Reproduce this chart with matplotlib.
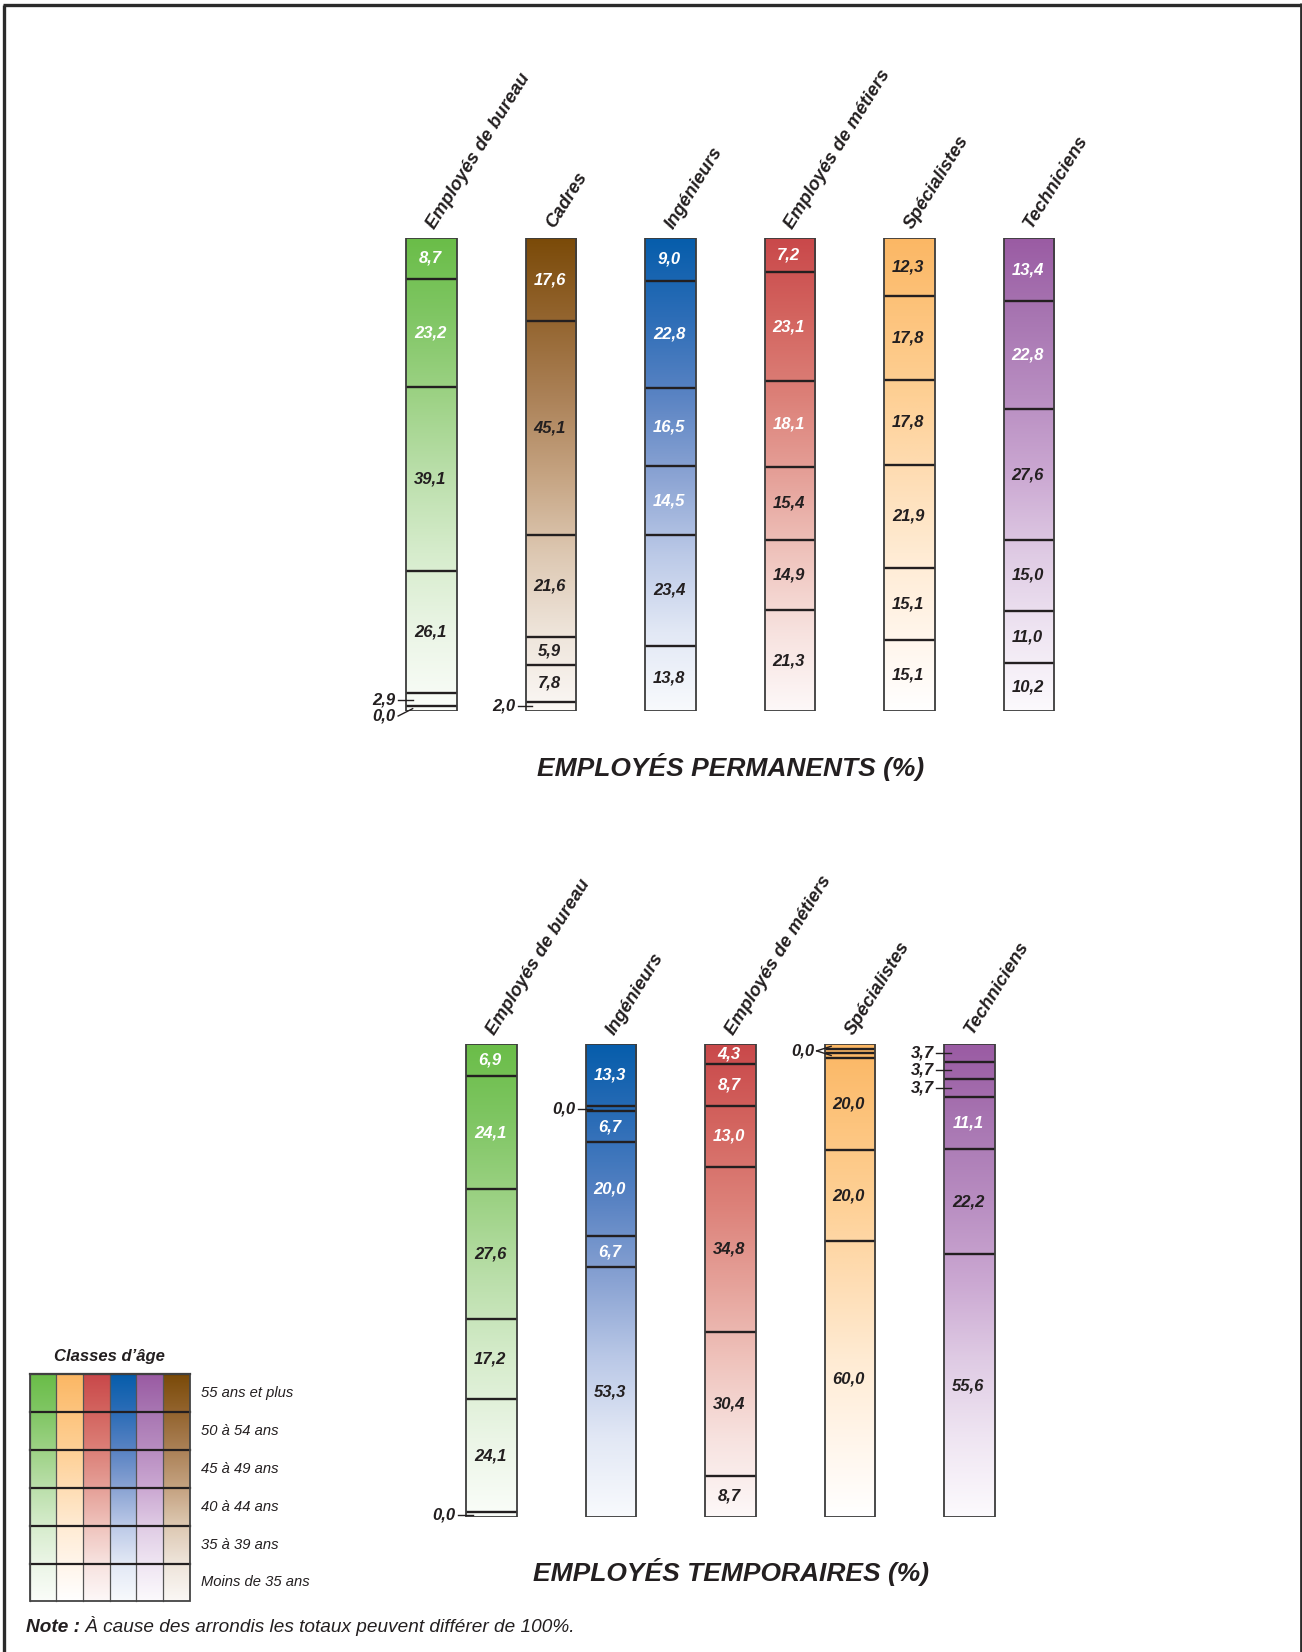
import numpy as np
import matplotlib
matplotlib.use("Agg")
import matplotlib.pyplot as plt
from matplotlib.colors import to_rgb
from matplotlib.patches import Rectangle

# ---------------------------------------------------------------- data
age_classes = ["55 ans et plus", "50 à 54 ans", "45 à 49 ans",
               "40 à 44 ans", "35 à 39 ans", "Moins de 35 ans"]

perm_groups = ["Employés de bureau", "Cadres", "Ingénieurs",
               "Employés de métiers", "Spécialistes", "Techniciens"]
perm_bureau = [8.7, 23.2, 39.1, 26.1, 2.9, 0.0]
perm_cadres = [17.6, 45.1, 21.6, 5.9, 7.8, 2.0]
perm_ingenieurs = [9.0, 22.8, 16.5, 14.5, 23.4, 13.8]
perm_metiers = [7.2, 23.1, 18.1, 15.4, 14.9, 21.3]
perm_specialistes = [12.3, 17.8, 17.8, 21.9, 15.1, 15.1]
perm_techniciens = [13.4, 22.8, 27.6, 15.0, 11.0, 10.2]

temp_groups = ["Employés de bureau", "Ingénieurs", "Employés de métiers",
               "Spécialistes", "Techniciens"]
temp_bureau = [6.9, 24.1, 27.6, 17.2, 24.1, 0.0]
temp_ingenieurs = [13.3, 0.0, 6.7, 20.0, 6.7, 53.3]
temp_metiers = [4.3, 8.7, 13.0, 34.8, 30.4, 8.7]
temp_specialistes = [0.0, 0.0, 0.0, 20.0, 20.0, 60.0]
temp_techniciens = [3.7, 3.7, 3.7, 11.1, 22.2, 55.6]

perm_values = [perm_bureau, perm_cadres, perm_ingenieurs,
               perm_metiers, perm_specialistes, perm_techniciens]
temp_values = [temp_bureau, temp_ingenieurs, temp_metiers,
               temp_specialistes, temp_techniciens]

# ---------------------------------------------------------------- styles
ramps = {
    "green":  ["#6ABD48", "#80C664", "#9DD285", "#BBDFAB", "#D6ECCC", "#EBF5E6", "#FAFDF9"],
    "orange": ["#FBB764", "#FDC47D", "#FED095", "#FEDDB4", "#FFEBD3", "#FFF5EA", "#FFFFFF"],
    "red":    ["#C9484A", "#D3645F", "#DC8078", "#E5A098", "#EFC3BC", "#F7E2DF", "#FDF8F8"],
    "blue":   ["#065DAB", "#2C6DB7", "#5983C3", "#8AA3D3", "#BBC9E7", "#E2E8F5", "#F8FAFD"],
    "purple": ["#9A5BA3", "#A876B2", "#B88DC1", "#CBA8D2", "#DFCBE4", "#EFE5F2", "#FCFAFD"],
    "brown":  ["#7A4A08", "#93642E", "#AB8157", "#C5A381", "#DDC8B2", "#EEE4DA", "#FBF8F5"],
}
hue_of = {"Employés de bureau": "green", "Cadres": "brown", "Ingénieurs": "blue",
          "Employés de métiers": "red", "Spécialistes": "orange", "Techniciens": "purple"}
legend_hues = ["green", "orange", "red", "blue", "purple", "brown"]

perm_light_text = [2, 1, 4, 3, 0, 2]
temp_light_text = [2, 5, 3, 0, 4]

DARK = "#231F20"
FONT = ["Liberation Sans", "DejaVu Sans"]

W, H = 1302, 1652
SPACING = 119.5         # pixels between bar centres
BAR_W = 50.5 / SPACING  # bar width in category units
ZERO_H = 1.0            # drawn thickness of an empty class
OUTSIDE_BELOW = 4.0     # values below this get their label beside the bar
VAL_SIZE = 12


def ramp(hue, t):
    stops = np.array([to_rgb(c) for c in ramps[hue]])
    pos = np.linspace(0, 1, len(stops))
    t = np.atleast_1d(t)
    return np.stack([np.interp(t, pos, stops[:, k]) for k in range(3)], axis=-1)


def fmt(v):
    return f"{v:.1f}".replace(".", ",")


def draw_panel(top_px, bottom_px, first_centre_px, groups, values, light_counts):
    ax = fig.add_axes([0, 1 - bottom_px / H, 1, (bottom_px - top_px) / H])
    ax.axis("off")
    px_per_unit_y = (bottom_px - top_px) / 100.0
    px_x = 1.0 / SPACING
    for i, (name, vals) in enumerate(zip(groups, values)):
        hue = hue_of[name]
        heights = np.array([ZERO_H if v == 0 else v for v in vals], float)
        heights *= 100.0 / heights.sum()
        tops = np.concatenate([[0], np.cumsum(heights)[:-1]])
        bots = tops + heights
        left, right = i - BAR_W / 2, i + BAR_W / 2
        for k, (y0, y1) in enumerate(zip(tops, bots)):
            ts = np.linspace(y0 / 100, y1 / 100, 64)
            img = ramp(hue, ts)[:, None, :]
            ax.imshow(img, extent=(left, right, y1, y0), origin="upper",
                      aspect="auto", interpolation="bilinear", zorder=1)
        # separators between classes
        for y in bots[:-1]:
            ax.plot([left, right], [y, y], color=DARK, lw=1.7, zorder=3,
                    solid_capstyle="butt")
        ax.add_patch(Rectangle((left, 0), BAR_W, 100, fill=False,
                               ec="#3C3C3C", lw=1.3, zorder=4))
        # values inside the bar
        outside = []
        for k, v in enumerate(vals):
            c = (tops[k] + bots[k]) / 2
            if v < OUTSIDE_BELOW:
                outside.append((k, c, fmt(v)))
                continue
            col = "white" if k < light_counts[i] else DARK
            ax.text(i - 0.01, c, fmt(v), ha="center", va="center", color=col,
                    fontsize=VAL_SIZE, fontweight="bold", fontstyle="italic",
                    family=FONT, zorder=5)
        # values beside the bar, merged when thin classes share a value
        merged = []
        for k, c, s in outside:
            if merged and merged[-1]["text"] == s and merged[-1]["ks"][-1] == k - 1 \
                    and c - merged[-1]["cs"][-1] < 2.5:
                merged[-1]["ks"].append(k)
                merged[-1]["cs"].append(c)
            else:
                merged.append({"text": s, "ks": [k], "cs": [c]})
        prev = -1e9
        min_gap = 16.5 / px_per_unit_y
        for m in merged:
            ly = np.mean(m["cs"])
            if ly - prev < min_gap:
                ly = prev + min_gap
            prev = ly
            ax.text(left - 10.5 * px_x, ly, m["text"], ha="right", va="center",
                    color=DARK, fontsize=VAL_SIZE, fontweight="bold",
                    fontstyle="italic", family=FONT, zorder=5)
            x_start = left - 8 * px_x
            x_end = left + 6.5 * px_x
            targets = [m["cs"][0], m["cs"][-1]] if len(m["cs"]) > 1 else m["cs"]
            for c in targets:
                ax.plot([x_start, x_end], [ly, c], color=DARK, lw=1.0, zorder=5,
                        clip_on=False)
        # category name above the bar
        ax.text(i + 3 * px_x, -1.8, name, rotation=58, rotation_mode="anchor",
                ha="left", va="baseline", fontsize=13.2, fontstyle="italic",
                fontweight="bold", family=FONT, color=DARK)
    ax.set_xlim(-first_centre_px / SPACING, (W - first_centre_px) / SPACING)
    ax.set_ylim(100, 0)
    return ax


fig = plt.figure(figsize=(W / 100, H / 100), dpi=100)
bg = fig.add_axes([0, 0, 1, 1], zorder=-1)
bg.set_xlim(0, W)
bg.set_ylim(H, 0)
bg.axis("off")

# outer frame
bg.plot([4, 4], [H + 5, 4.5], color="#2B2B2B", lw=2.4, solid_capstyle="butt")
bg.plot([3, 1300.5], [4.5, 4.5], color="#2B2B2B", lw=2.4, solid_capstyle="butt")
bg.plot([1300.5, 1300.5], [3, H + 5], color="#2B2B2B", lw=2.0, solid_capstyle="butt")

draw_panel(238, 711, 431.4, perm_groups, perm_values, perm_light_text)
draw_panel(1044, 1517, 491.4, temp_groups, temp_values, temp_light_text)

bg.text(731, 767, "EMPLOYÉS PERMANENTS (%)", ha="center", va="center",
        fontsize=19, fontweight="bold", fontstyle="italic", family=FONT, color=DARK)
bg.text(731, 1572, "EMPLOYÉS TEMPORAIRES (%)", ha="center", va="center",
        fontsize=19, fontweight="bold", fontstyle="italic", family=FONT, color=DARK)

# age-class key
lx0, ly0, cw, ch = 29.5, 1374, 26.7, 37.9
bg.text(lx0 + 3 * cw, ly0 - 18, "Classes d’âge", ha="center", va="center",
        fontsize=12, fontweight="bold", fontstyle="italic", family=FONT, color=DARK)
for r, label in enumerate(age_classes):
    y0, y1 = ly0 + r * ch, ly0 + (r + 1) * ch
    for c, hue in enumerate(legend_hues):
        ts = np.linspace(r / 6, (r + 1) / 6, 32)
        bg.imshow(ramp(hue, ts)[:, None, :], extent=(lx0 + c * cw, lx0 + (c + 1) * cw, y1, y0),
                  origin="upper", aspect="auto", interpolation="bilinear", zorder=1)
        bg.plot([lx0 + c * cw] * 2, [y0, y1], color="#555555", lw=0.9, zorder=2)
    bg.plot([lx0, lx0 + 6 * cw], [y0, y0], color=DARK, lw=1.6, zorder=3)
    bg.text(lx0 + 6 * cw + 11, (y0 + y1) / 2, label, ha="left", va="center",
            fontsize=10.6, fontstyle="italic", family=FONT, color=DARK)
bg.add_patch(Rectangle((lx0, ly0), 6 * cw, 6 * ch, fill=False, ec="#444444", lw=1.3, zorder=4))

note = bg.text(26, 1628, "Note :", ha="left", va="center", fontsize=13.7,
               fontweight="bold", fontstyle="italic", family=FONT, color=DARK)
bg.annotate(" À cause des arrondis les totaux peuvent différer de 100%.",
            xy=(1, 0), xycoords=note, ha="left", va="bottom", fontsize=13.7,
            fontstyle="italic", family=FONT, color=DARK)

bg.set_xlim(0, W)
bg.set_ylim(H, 0)
fig.savefig("out.png", dpi=100, facecolor="white")
